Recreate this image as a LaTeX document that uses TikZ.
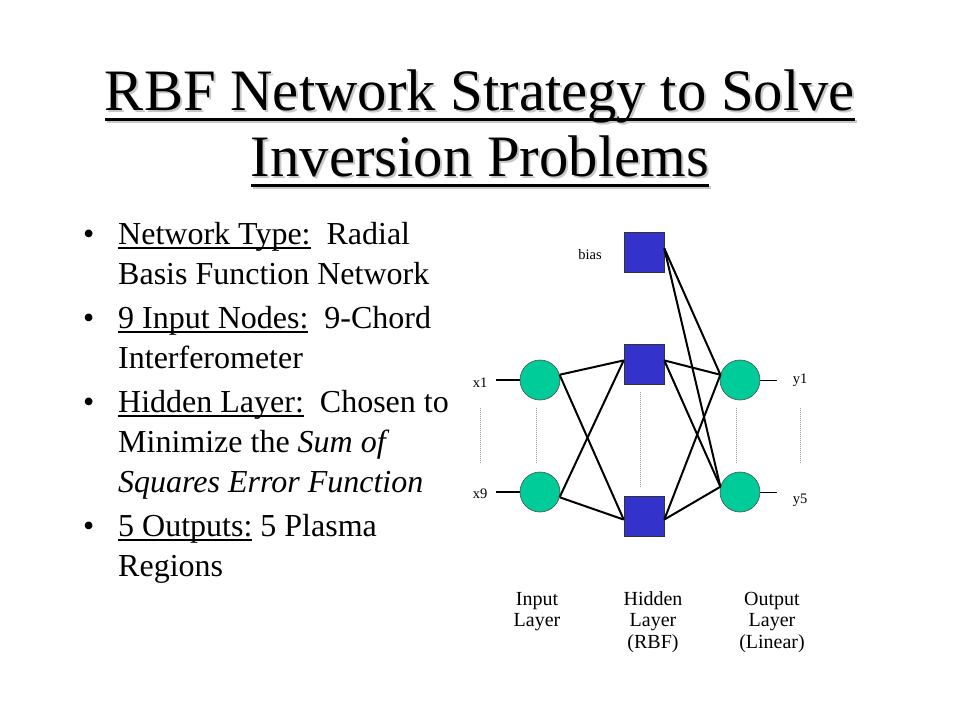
\documentclass[tikz,border=0pt]{standalone}
\usepackage{fontspec}
\setmainfont{Liberation Serif}
\definecolor{nodegreen}{RGB}{0,204,153}
\definecolor{nodeblue}{RGB}{51,51,204}
\newcommand\ulx[1]{\setbox0\hbox{#1}\rlap{\rule[-5.2bp]{\wd0}{1.8bp}}\box0}
\begin{document}
\begin{tikzpicture}[x=1bp,y=-1bp,
  title/.style={font=\fontsize{58.7bp}{70bp}\selectfont, inner sep=0, anchor=base},
  body/.style={font=\fontsize{32bp}{40bp}\selectfont, inner sep=0, anchor=base west},
  bul/.style={font=\fontsize{32bp}{40bp}\selectfont, inner sep=0, anchor=base west},
  hid/.style={draw=black!80, fill=nodeblue, minimum size=40bp, inner sep=0, line width=0.6bp},
  neuron/.style={circle, draw=black!70, fill=nodegreen, minimum size=40bp, inner sep=0, line width=0.6bp},
  link/.style={line width=2bp},
  guide/.style={draw=gray!80, dash pattern=on 1bp off 1bp, line width=0.7bp},
  small/.style={font=\fontsize{14.5bp}{17bp}\selectfont, inner sep=0, anchor=base},
  layer/.style={font=\fontsize{20bp}{21.5bp}\selectfont, align=center, inner sep=0, anchor=north}]
\fill[white] (0,0) rectangle (960,720);
\path[use as bounding box] (0,0) rectangle (960,720);

% title shadow
\node[title, text=black!22] (t1s) at (482,113) {RBF Network Strategy to Solve};
\node[title, text=black!22] (t2s) at (482,179) {Inversion Problems};
\draw[black!22, line width=3bp] ([yshift=-8.5bp]t1s.base west) -- ([yshift=-8.5bp]t1s.base east);
\draw[black!22, line width=3bp] ([yshift=-8.5bp]t2s.base west) -- ([yshift=-8.5bp]t2s.base east);
% title
\node[title] (t1) at (480,111) {RBF Network Strategy to Solve};
\node[title] (t2) at (480,177) {Inversion Problems};
\draw[line width=3bp] ([yshift=-8.5bp]t1.base west) -- ([yshift=-8.5bp]t1.base east);
\draw[line width=3bp] ([yshift=-8.5bp]t2.base west) -- ([yshift=-8.5bp]t2.base east);

% bullets
\node[bul] (b1) at (83,244) {\textbullet};
\node[bul] (b2) at (83,328) {\textbullet};
\node[bul] (b3) at (83,412) {\textbullet};
\node[bul] (b4) at (83,536) {\textbullet};
\node[body] (l1) at (118,244) {\ulx{Network Type:}~ Radial};
\node[body] (l2) at (118,284) {Basis Function Network};
\node[body] (l3) at (118,328) {\ulx{9 Input Nodes:}~ 9-Chord};
\node[body] (l4) at (118,368) {Interferometer};
\node[body] (l5) at (118,412) {\ulx{Hidden Layer:}~ Chosen to};
\node[body] (l6) at (118,452) {Minimize the \textit{Sum of}};
\node[body] (l7) at (118,492) {\textit{Squares Error Function}};
\node[body] (l8) at (118,536) {\ulx{5 Outputs:}\ 5 Plasma};
\node[body] (l9) at (118,576) {Regions};

% network nodes
\node[hid] (bias) at (644,252) {};
\node[hid] (h1) at (644,364) {};
\node[hid] (h2) at (644,516) {};
\node[neuron] (in1) at (540,380) {};
\node[neuron] (in2) at (540,492) {};
\node[neuron] (out1) at (740,380) {};
\node[neuron] (out2) at (740,492) {};

% input / output stubs
\coordinate (x1s) at (496,380);
\coordinate (x9s) at (496,492);
\coordinate (y1e) at (777,380);
\coordinate (y5e) at (777,492);
\draw[line width=2.2bp] (x1s) -- (in1.west);
\draw[line width=2.2bp] (x9s) -- (in2.west);
\draw[line width=1bp] (out1.east) -- (y1e);
\draw[line width=1bp] (out2.east) -- (y5e);

% connections
\draw[link] (in1.15) -- (h1.170);
\draw[link] (in1.15) -- (h2.190);
\draw[link] (in2.-15) -- (h1.170);
\draw[link] (in2.-15) -- (h2.190);
\draw[link] (h1.10) -- (out1.165);
\draw[link] (h1.10) -- (out2.165);
\draw[link] (h2.350) -- (out1.165);
\draw[link] (h2.350) -- (out2.165);
\draw[link] (bias.10) -- (out1.165);
\draw[link] (bias.10) -- (out2.165);

% dotted guides
\draw[guide] (480,408) -- (480,463);
\draw[guide] (536.7,408) -- (536.7,463);
\draw[guide] (640.3,392) -- (640.3,487);
\draw[guide] (736.7,408) -- (736.7,463);
\draw[guide] (800,408) -- (800,463);

% small labels
\node[small] (lbias) at (590,259) {bias};
\node[small] (lx1) at (480,387.5) {x1};
\node[small] (lx9) at (480,498) {x9};
\node[small] (ly1) at (800,383) {y1};
\node[small] (ly5) at (800,503) {y5};

% layer labels
\node[layer] (linput) at (537,591.3) {\vphantom{Hd}Input\\Layer};
\node[layer] (lhidden) at (653,591.3) {\vphantom{Hd}Hidden\\Layer\\(RBF)};
\node[layer] (loutput) at (772,591.3) {\vphantom{Hd}Output\\Layer\\(Linear)};
\end{tikzpicture}
\end{document}
